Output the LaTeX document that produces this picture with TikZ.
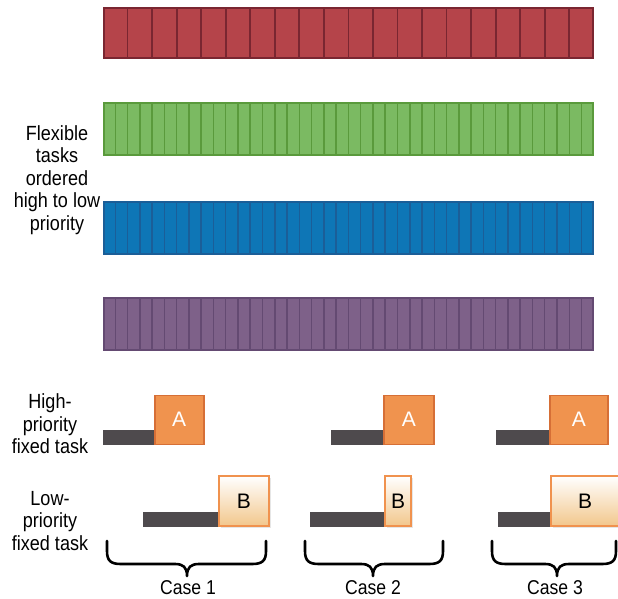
\documentclass[tikz,border=0pt]{standalone}
\usepackage{fontspec}
\setmainfont{Liberation Sans}
\newfontfamily\condfont{Liberation Sans}[FakeStretch=0.88]
\usetikzlibrary{shadows,calc}
\definecolor{redfill}{HTML}{B5444A}
\definecolor{redline}{HTML}{7A2631}
\definecolor{greenfill}{HTML}{7BBA62}
\definecolor{greenline}{HTML}{5A9A3C}
\definecolor{bluefill}{HTML}{0E76B6}
\definecolor{blueline}{HTML}{1B5E98}
\definecolor{purplefill}{HTML}{7E6189}
\definecolor{purpleline}{HTML}{644A72}
\definecolor{afill}{HTML}{F0934E}
\definecolor{aline}{HTML}{D66F36}
\definecolor{bfill}{HTML}{F2C78C}
\definecolor{bline}{HTML}{F0924E}
\definecolor{darkbar}{HTML}{4E4A4D}
\begin{document}
\begin{tikzpicture}[x=1pt,y=-1pt,
  taskbar/.style={draw, line width=1.8pt, minimum width=489pt, inner sep=0pt, anchor=north west},
  lbl/.style={align=center, inner sep=0pt, font=\condfont\fontsize{20.5}{22.5}\selectfont, text=black},
  caselbl/.style={inner sep=0pt, font=\condfont\fontsize{20}{24}\selectfont},
  abox/.style={draw=aline, fill=afill, line width=1.5pt, minimum height=49pt, inner sep=0pt, anchor=south west, text=white, font=\fontsize{21}{24}\selectfont},
  bbox/.style={draw=bline, line width=2pt, top color=white, bottom color=bfill, minimum height=50pt, inner sep=0pt, anchor=south west, text=black, font=\fontsize{21}{24}\selectfont, drop shadow={opacity=0.2, shadow xshift=1.5pt, shadow yshift=-1.5pt}},
  darkbarstyle/.style={fill=darkbar, minimum height=15pt, inner sep=0pt, anchor=south east},
  bracestyle/.style={line width=2.6pt, line cap=round, line join=round}
]
\useasboundingbox (0,0) rectangle (618,598);

% flexible task bars
\node[taskbar, fill=redfill, draw=redline, minimum height=50pt] (red) at (103,7) {};
\node[taskbar, fill=greenfill, draw=greenline, minimum height=52pt] (green) at (103,102) {};
\node[taskbar, fill=bluefill, draw=blueline, minimum height=52pt] (blue) at (103,201) {};
\node[taskbar, fill=purplefill, draw=purpleline, minimum height=52pt] (purple) at (103,297) {};
\foreach \i in {1,...,19} {
  \draw[draw=redline, line width=1.8pt] ($(red.north west)!\i/20!(red.north east)$) -- ($(red.south west)!\i/20!(red.south east)$);
}
\foreach \nm/\lc in {green/greenline, blue/blueline, purple/purpleline} {
  \foreach \i in {1,...,39} {
    \draw[draw=\lc, line width=1.5pt] ($(\nm.north west)!\i/40!(\nm.north east)$) -- ($(\nm.south west)!\i/40!(\nm.south east)$);
  }
}

% left labels
\node[lbl] (flex) at (57,180) {Flexible\\tasks\\ordered\\high to low\\priority};
\node[lbl] (high) at (50,424) {High-\\priority\\fixed task};
\node[lbl] (low) at (50,521) {Low-\\priority\\fixed task};

% high priority fixed task A
\node[abox, minimum width=49pt] (a1) at (154,445) {A};
\node[darkbarstyle, minimum width=51pt] (ha1) at (a1.south west) {};
\node[abox, minimum width=50pt] (a2) at (383,445) {A};
\node[darkbarstyle, minimum width=52pt] (ha2) at (a2.south west) {};
\node[abox, minimum width=58pt] (a3) at (549,445) {A};
\node[darkbarstyle, minimum width=53pt] (ha3) at (a3.south west) {};

% low priority fixed task B
\node[bbox, minimum width=50pt] (b1) at (218,527) {B};
\node[darkbarstyle, minimum width=75pt] (hb1) at (b1.south west) {};
\node[bbox, minimum width=26pt] (b2) at (384,527) {B};
\node[darkbarstyle, minimum width=74pt] (hb2) at (b2.south west) {};
\node[bbox, minimum width=68pt] (b3) at (550,527) {B};
\node[darkbarstyle, minimum width=52pt] (hb3) at (b3.south west) {};

% braces
\foreach \xa/\xb/\xm in {107/266/187, 305/443/373, 492/616/557} {
  \draw[bracestyle] (\xa,541) -- (\xa,551) .. controls (\xa,561) and (\xa+4,564) .. (\xa+14,564) -- (\xm-12,564) .. controls (\xm-4,564) and (\xm,567) .. (\xm,576) .. controls (\xm,567) and (\xm+4,564) .. (\xm+12,564) -- (\xb-14,564) .. controls (\xb-4,564) and (\xb,561) .. (\xb,551) -- (\xb,541);
}

% case labels
\node[caselbl] (c1) at (188,588) {Case 1};
\node[caselbl] (c2) at (373,588) {Case 2};
\node[caselbl] (c3) at (555,588) {Case 3};
\end{tikzpicture}
\end{document}
